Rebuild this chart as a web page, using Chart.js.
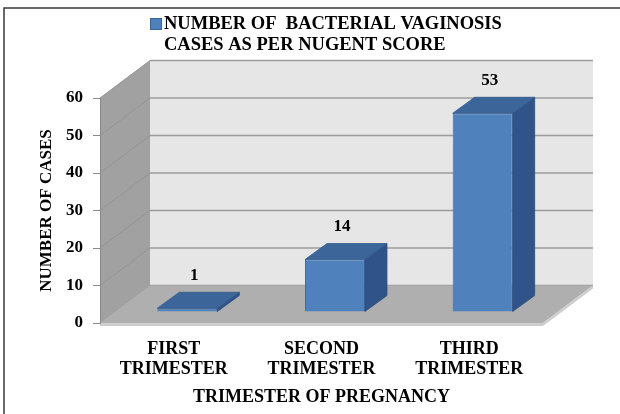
<!DOCTYPE html>
<html><head><meta charset="utf-8">
<script src="https://cdn.jsdelivr.net/npm/chart.js@4"></script>
<style>html,body{margin:0;padding:0;background:#fff}canvas{display:block}</style>
</head><body>
<canvas id="c" width="620" height="414"></canvas>
<script>
const categories = [["FIRST", "TRIMESTER"], ["SECOND", "TRIMESTER"], ["THIRD", "TRIMESTER"]];
const caseCounts = [1, 14, 53];
const seriesName = ["NUMBER OF  BACTERIAL VAGINOSIS", "CASES AS PER NUGENT SCORE"];
const yTickValues = [0, 10, 20, 30, 40, 50, 60];
const yTitle = "NUMBER OF CASES";
const xTitle = "TRIMESTER OF PREGNANCY";

const FONT = "'Liberation Serif', 'Times New Roman', serif";
const WALL = {dx: 50, dy: -37.5};
const BAR_SHIFT = {dx: 13.5, dy: -11};
const BAR_DEPTH = {dx: 22, dy: -16};

function poly(ctx, pts, fill, stroke, lw) {
  ctx.beginPath();
  pts.forEach((p, i) => i ? ctx.lineTo(p[0], p[1]) : ctx.moveTo(p[0], p[1]));
  ctx.closePath();
  if (fill) { ctx.fillStyle = fill; ctx.fill(); }
  if (stroke) { ctx.strokeStyle = stroke; ctx.lineWidth = lw || 1; ctx.stroke(); }
}

const threeD = {
  id: 'threeD',
  beforeDraw(chart) {
    const {ctx, chartArea: a, scales: {y}} = chart;
    ctx.save();
    // outer frame
    ctx.strokeStyle = '#3a3a3a'; ctx.lineWidth = 1.5;
    ctx.beginPath(); ctx.moveTo(4, 414); ctx.lineTo(4, 8); ctx.lineTo(620, 8); ctx.stroke();
    const L = a.left, R = a.right, T = a.top, B = a.bottom, dx = WALL.dx, dy = WALL.dy;
    // back wall
    ctx.fillStyle = '#e6e6e6';
    ctx.fillRect(L + dx, T + dy, R - L, B - T);
    // left wall
    poly(ctx, [[L, T], [L + dx, T + dy], [L + dx, B + dy], [L, B]], '#a1a1a1');
    // gridlines on back wall and left wall
    yTickValues.forEach(v => {
      const py = y.getPixelForValue(v);
      ctx.strokeStyle = '#9c9c9c'; ctx.lineWidth = 1.6;
      ctx.beginPath(); ctx.moveTo(L + dx, py + dy); ctx.lineTo(R + dx, py + dy); ctx.stroke();
      ctx.strokeStyle = '#939393'; ctx.lineWidth = 1;
      ctx.beginPath(); ctx.moveTo(L, py); ctx.lineTo(L + dx, py + dy); ctx.stroke();
    });
    // floor
    poly(ctx, [[L, B], [R, B], [R + dx, B + dy], [L + dx, B + dy]], '#afafaf');
    // floor thickness
    poly(ctx, [[L, B], [R, B], [R + dx, B + dy], [R + dx, B + dy + 3], [R, B + 3], [L, B + 3]], '#cdcdcd');
    ctx.restore();
  },
  beforeDatasetsDraw(chart) {
    chart.ctx.save();
    chart.ctx.translate(BAR_SHIFT.dx, BAR_SHIFT.dy);
  },
  afterDatasetsDraw(chart) {
    const ctx = chart.ctx;
    ctx.restore();
    ctx.save();
    const meta = chart.getDatasetMeta(0);
    const ddx = BAR_DEPTH.dx, ddy = BAR_DEPTH.dy;
    meta.data.forEach((el, i) => {
      const x0 = el.x - el.width / 2 + BAR_SHIFT.dx, x1 = el.x + el.width / 2 + BAR_SHIFT.dx;
      const yt = el.y + BAR_SHIFT.dy, yb = el.base + BAR_SHIFT.dy;
      poly(ctx, [[x1, yt], [x1 + ddx, yt + ddy], [x1 + ddx, yb + ddy], [x1, yb]], '#30538a', '#2b4c7d', 0.8);
      poly(ctx, [[x0, yt], [x1, yt], [x1 + ddx, yt + ddy], [x0 + ddx, yt + ddy]], '#3c6699', '#335b8c', 0.8);
      ctx.fillStyle = '#000';
      ctx.font = "bold 17px " + FONT;
      ctx.textAlign = 'center'; ctx.textBaseline = 'middle';
      ctx.fillText(String(caseCounts[i]), (x0 + x1) / 2 + ddx / 2 - 4, yt + ddy - 17);
    });
    ctx.restore();
  },
  afterDraw(chart) {
    const ctx = chart.ctx;
    ctx.save();
    ctx.fillStyle = '#4f81bd'; ctx.strokeStyle = '#3a659a'; ctx.lineWidth = 1;
    ctx.fillRect(150, 18, 12, 12); ctx.strokeRect(150.5, 18.5, 11, 11);
    ctx.fillStyle = '#000';
    ctx.font = "bold 18.5px " + FONT;
    ctx.textAlign = 'left'; ctx.textBaseline = 'middle';
    ctx.fillText(seriesName[0], 164, 24.5);
    ctx.fillText(seriesName[1], 164, 45);
    ctx.restore();
  }
};

new Chart(document.getElementById('c'), {
  type: 'bar',
  data: {
    labels: categories,
    datasets: [{
      label: seriesName.join(' '),
      data: caseCounts,
      backgroundColor: '#4f81bd',
      borderColor: '#3d6ca3',
      borderWidth: 1,
      barPercentage: 0.406,
      categoryPercentage: 1
    }]
  },
  options: {
    responsive: false,
    animation: false,
    devicePixelRatio: 1,
    layout: {padding: {left: 0, right: 77, top: 98, bottom: 0}},
    plugins: {legend: {display: false}, title: {display: false}, tooltip: {enabled: false}},
    scales: {
      x: {
        grid: {display: false},
        border: {display: false},
        ticks: {color: '#000', padding: 8, maxRotation: 0, autoSkip: false,
          font: {family: FONT, size: 18, weight: 'bold', lineHeight: 1.11}},
        title: {display: true, text: xTitle, color: '#000', padding: {top: 0, bottom: 6},
          font: {family: FONT, size: 18, weight: 'bold', lineHeight: 1.2}},
        afterFit(s) { s.height = 91; }
      },
      y: {
        min: 0, max: 60,
        afterBuildTicks(s) { s.ticks = yTickValues.map(v => ({value: v})); },
        grid: {drawOnChartArea: false, drawTicks: true, tickLength: 7, color: '#8a8a8a'},
        border: {display: true, color: '#8a8a8a'},
        ticks: {color: '#000', padding: 10, font: {family: FONT, size: 17, weight: 'bold'}},
        title: {display: true, text: yTitle, color: '#000', padding: {top: 36, bottom: 0},
          font: {family: FONT, size: 17, weight: 'bold', lineHeight: 1.2}},
        afterFit(s) { s.width = 100; }
      }
    }
  },
  plugins: [threeD]
});
</script>
</body></html>
